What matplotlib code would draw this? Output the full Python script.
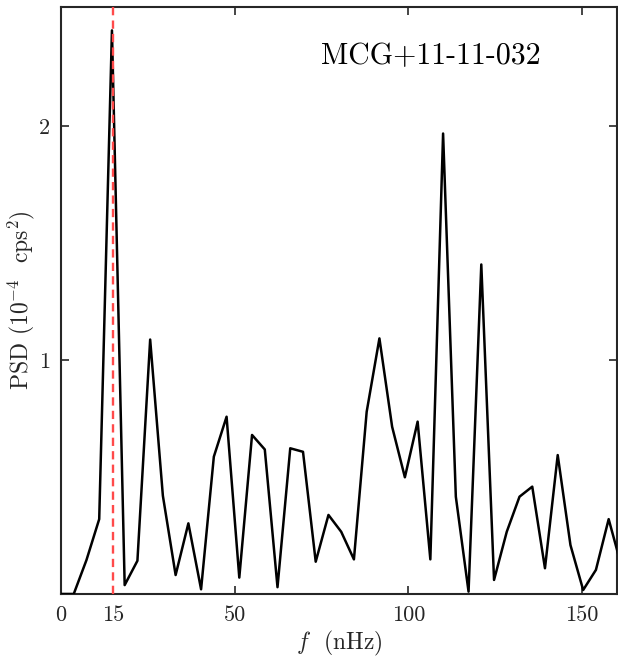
import matplotlib
matplotlib.use("Agg")
import matplotlib.pyplot as plt

plt.rcParams['font.family'] = 'cmr10'
plt.rcParams['mathtext.fontset'] = 'cm'
plt.rcParams['axes.formatter.use_mathtext'] = True

freq = [0.0, 3.67, 7.33, 11.0, 14.67, 18.33, 22.0, 25.67, 29.33, 33.0,
        36.67, 40.33, 44.0, 47.67, 51.33, 55.0, 58.67, 62.33, 66.0, 69.67,
        73.33, 77.0, 80.67, 84.33, 88.0, 91.67, 95.33, 99.0, 102.67, 106.33,
        110.0, 113.67, 117.33, 121.0, 124.67, 128.33, 132.0, 135.67, 139.33, 143.0,
        146.67, 150.33, 154.0, 157.67, 161.33]
psd = [0.0, 0.0, 0.145, 0.32, 2.41, 0.038, 0.142, 1.088, 0.42, 0.081,
       0.302, 0.02, 0.587, 0.758, 0.07, 0.68, 0.618, 0.029, 0.623, 0.608,
       0.138, 0.338, 0.266, 0.148, 0.779, 1.093, 0.715, 0.499, 0.737, 0.148,
       1.969, 0.416, 0.01, 1.409, 0.06, 0.266, 0.416, 0.459, 0.11, 0.594,
       0.209, 0.017, 0.103, 0.32, 0.12]
peak_freq = 15
xticks = [0, 15, 50, 100, 150]
yticks = [1, 2]
title = "MCG+11-11-032"

fig = plt.figure(figsize=(6.18, 6.61), dpi=100)
ax = fig.add_axes([0.0987, 0.1014, 0.8993, 0.888])
dark = '#262626'
ax.plot(freq, psd, color='black', lw=1.8, zorder=3)
ax.axvline(peak_freq, color='#ff4a4a', lw=1.7, ls=(0, (3.5, 2.2)), zorder=4)
ax.set_xlim(0, 160)
ax.set_ylim(0, 2.51)
ax.set_xticks(xticks)
ax.set_xticklabels([str(t) for t in xticks])
ax.set_yticks(yticks)
ax.set_yticklabels([str(t) for t in yticks])
ax.tick_params(direction='in', length=6, width=1.2, colors=dark, labelsize=16,
               top=True, right=True, pad=8)
for s in ax.spines.values():
    s.set_color(dark)
    s.set_linewidth(1.5)
ax.set_xlabel(r"$f$  (nHz)", fontsize=17, color=dark, labelpad=3)
ax.set_ylabel(r"PSD ($10^{-4}$  cps$^2$)", fontsize=17, color=dark, labelpad=1)
ax.text(0.468, 0.94, title, transform=ax.transAxes, fontsize=21.5,
        color='black', ha='left', va='top')
fig.savefig("out.png", dpi=100)
